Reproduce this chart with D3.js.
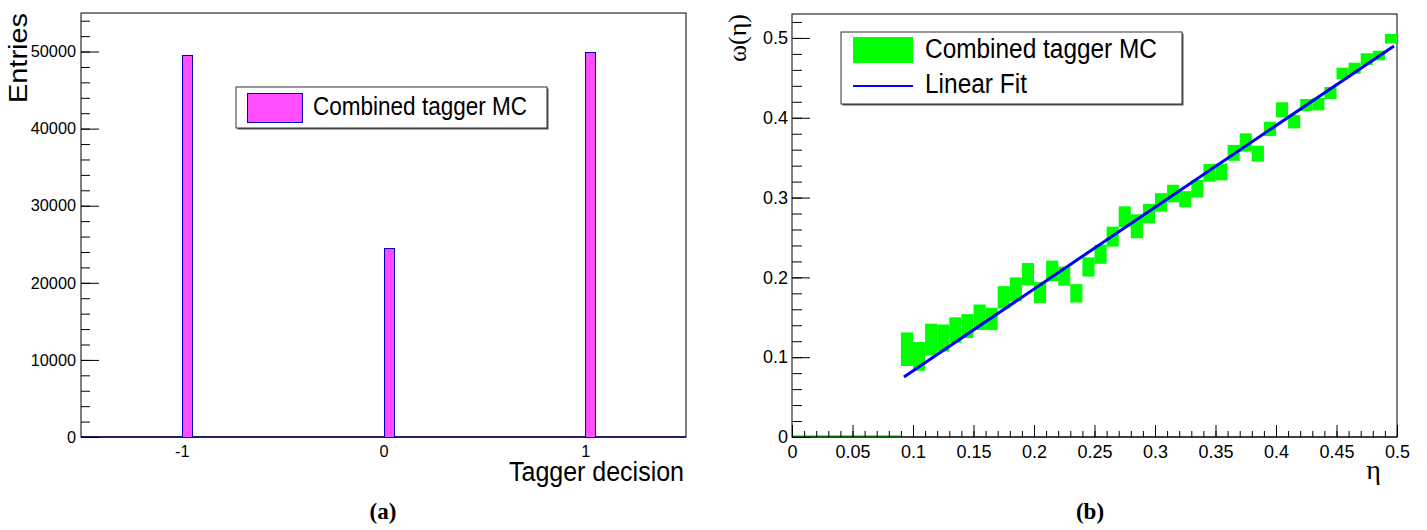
<!DOCTYPE html>
<meta charset="utf-8">
<script src="https://d3js.org/d3.v7.min.js"></script>
<style>
  body { margin: 0; background: #fff; }
  svg text { font-family: 'Liberation Sans', Arial, Helvetica, sans-serif; fill: #000; }
  svg .serif { font-family: 'Liberation Serif', 'Times New Roman', serif; }
  .tick line { stroke: #000; }
</style>
<body>
<svg id="fig" width="1427" height="530"></svg>
<script>
// panel (a): tagger decision histogram
var decisions = [-1, 0, 1];
var entries = [49500, 24500, 50000];
var binWidth = 0.05;
var entryTicks = [0, 10000, 20000, 30000, 40000, 50000];
var decisionTicks = [-1, 0, 1];

// panel (b): mistag vs eta, error boxes
var eta = [0.095, 0.105, 0.115, 0.125, 0.135, 0.145, 0.155, 0.165, 0.175, 0.185,
           0.195, 0.205, 0.215, 0.225, 0.235, 0.245, 0.255, 0.265, 0.275, 0.285,
           0.295, 0.305, 0.315, 0.325, 0.335, 0.345, 0.355, 0.365, 0.375, 0.385,
           0.395, 0.405, 0.415, 0.425, 0.435, 0.445, 0.455, 0.465, 0.475, 0.485, 0.495];
var omega = [0.110, 0.101, 0.122, 0.124, 0.134, 0.139, 0.150, 0.148, 0.175, 0.185,
             0.204, 0.181, 0.208, 0.2015, 0.180, 0.213, 0.229, 0.251, 0.276, 0.264,
             0.280, 0.294, 0.305, 0.298, 0.311, 0.331, 0.332, 0.356, 0.369, 0.355,
             0.386, 0.410, 0.395, 0.416, 0.417, 0.431, 0.4555, 0.462, 0.4735, 0.478, 0.499];
var omegaErr = [0.021, 0.018, 0.020, 0.017, 0.016, 0.015, 0.016, 0.014, 0.014, 0.015,
                0.014, 0.013, 0.013, 0.012, 0.0115, 0.012, 0.012, 0.0125, 0.013, 0.015,
                0.012, 0.0115, 0.011, 0.010, 0.011, 0.011, 0.0105, 0.010, 0.0115, 0.010,
                0.009, 0.0094, 0.0084, 0.0075, 0.0078, 0.0075, 0.0073, 0.007, 0.0073, 0.006, 0.006];
var etaBin = 0.01;
var emptyEta = [0.005, 0.015, 0.025, 0.035, 0.045, 0.055, 0.065, 0.075, 0.085];
var fitSlope = 1.024, fitIntercept = -0.0194;
var fitRange = [0.0925, 0.4975];
var etaTicks = [0, 0.05, 0.1, 0.15, 0.2, 0.25, 0.3, 0.35, 0.4, 0.45, 0.5];
var etaLabels = ["0", "0.05", "0.1", "0.15", "0.2", "0.25", "0.3", "0.35", "0.4", "0.45", "0.5"];
var omegaTicks = [0, 0.1, 0.2, 0.3, 0.4, 0.5];
var omegaLabels = ["0", "0.1", "0.2", "0.3", "0.4", "0.5"];

var svg = d3.select("#fig");
var barFill = "#ff4dff";

function legendBox(g, x, y, w, h) {
    g.append("rect").attr("x", x + 1.5).attr("y", y + 1.5).attr("width", w).attr("height", h)
        .attr("fill", "#555");
    g.append("rect").attr("x", x).attr("y", y).attr("width", w).attr("height", h)
        .attr("fill", "#fff").attr("stroke", "#333").attr("stroke-width", 1);
}

/* ---------- panel (a) ---------- */
var xA = d3.scaleLinear().domain([-1.5, 1.5]).range([81, 686]);
var yA = d3.scaleLinear().domain([0, 55000]).range([437, 13]);
var gA = svg.append("g");

gA.append("rect")
    .attr("x", xA.range()[0]).attr("y", yA.range()[1])
    .attr("width", xA.range()[1] - xA.range()[0])
    .attr("height", yA.range()[0] - yA.range()[1])
    .attr("fill", "none").attr("stroke", "#000").attr("stroke-width", 1);

gA.append("line")
    .attr("x1", xA.range()[0]).attr("x2", xA.range()[1])
    .attr("y1", yA(0)).attr("y2", yA(0))
    .attr("stroke", "#000066").attr("stroke-width", 1.5);

gA.selectAll(".bar")
    .data(decisions)
    .enter().append("rect")
    .attr("class", "bar")
    .attr("x", function(d) { return Math.round(xA(d)) + 0.5; })
    .attr("width", function(d) { return Math.round(xA(d + binWidth) - xA(d)); })
    .attr("y", function(d, i) { return Math.round(yA(entries[i])) + 0.5; })
    .attr("height", function(d, i) { return Math.round(yA(0) - yA(entries[i])); })
    .attr("fill", barFill)
    .attr("stroke", "#0000c0").attr("stroke-width", 1);

gA.append("g")
    .attr("transform", "translate(" + xA.range()[0] + ",0)")
    .call(d3.axisLeft(yA).tickValues(d3.range(0, 55001, 2000)).tickSize(-9).tickFormat(""))
    .call(function(g) { g.select(".domain").remove(); });

gA.append("g")
    .attr("transform", "translate(" + xA.range()[0] + ",0)")
    .call(d3.axisLeft(yA).tickValues(entryTicks).tickSize(-18).tickPadding(5)
        .tickFormat(function(d) { return String(d); }))
    .call(function(g) { g.select(".domain").remove(); })
    .selectAll("text").attr("font-size", 16.3).style("font-family", "'Liberation Sans', Arial, sans-serif");

gA.append("g")
    .attr("transform", "translate(0," + yA(0) + ")")
    .call(d3.axisBottom(xA).tickValues(decisionTicks).tickSize(0).tickPadding(8)
        .tickFormat(function(d) { return String(d); }))
    .call(function(g) { g.select(".domain").remove(); })
    .selectAll("text").attr("font-size", 16.3).style("font-family", "'Liberation Sans', Arial, sans-serif");

gA.append("text")
    .attr("transform", "translate(27,13) rotate(-90)")
    .attr("text-anchor", "end")
    .attr("font-size", 26.5)
    .attr("textLength", 90).attr("lengthAdjust", "spacingAndGlyphs")
    .text("Entries");

gA.append("text")
    .attr("x", 684).attr("y", 481)
    .attr("text-anchor", "end")
    .attr("font-size", 27)
    .attr("textLength", 175).attr("lengthAdjust", "spacingAndGlyphs")
    .text("Tagger decision");

var legA = gA.append("g");
legendBox(legA, 236, 87, 311, 41);
legA.append("rect").attr("x", 247.5).attr("y", 93.5).attr("width", 55).attr("height", 29)
    .attr("fill", barFill).attr("stroke", "#0000c0").attr("stroke-width", 1);
legA.append("text").attr("x", 313).attr("y", 115)
    .attr("font-size", 26)
    .attr("textLength", 214).attr("lengthAdjust", "spacingAndGlyphs")
    .text("Combined tagger MC");

gA.append("text")
    .attr("class", "serif")
    .attr("x", 383).attr("y", 519)
    .attr("text-anchor", "middle")
    .attr("font-size", 23).attr("font-weight", "bold")
    .text("(a)");

/* ---------- panel (b) ---------- */
var xB = d3.scaleLinear().domain([0, 0.5]).range([792, 1397]);
var yB = d3.scaleLinear().domain([0, 0.53]).range([437, 14]);
var gB = svg.append("g");

gB.append("rect")
    .attr("x", xB.range()[0]).attr("y", yB.range()[1])
    .attr("width", xB.range()[1] - xB.range()[0])
    .attr("height", yB.range()[0] - yB.range()[1])
    .attr("fill", "none").attr("stroke", "#000").attr("stroke-width", 1);

// empty bins sit on the axis
gB.selectAll(".empty")
    .data(emptyEta)
    .enter().append("line")
    .attr("class", "empty")
    .attr("x1", function(d) { return xB(d - etaBin / 2); })
    .attr("x2", function(d) { return xB(d + etaBin / 2); })
    .attr("y1", yB(0) - 0.5).attr("y2", yB(0) - 0.5)
    .attr("stroke", "#00cc00").attr("stroke-width", 2);

gB.selectAll(".box")
    .data(eta)
    .enter().append("rect")
    .attr("class", "box")
    .attr("x", function(d) { return xB(d - etaBin / 2); })
    .attr("width", function(d) { return xB(d + etaBin / 2) - xB(d - etaBin / 2); })
    .attr("y", function(d, i) { return yB(omega[i] + omegaErr[i]); })
    .attr("height", function(d, i) { return yB(omega[i] - omegaErr[i]) - yB(omega[i] + omegaErr[i]); })
    .attr("fill", "#00ff00");

gB.append("line")
    .attr("x1", xB(fitRange[0])).attr("y1", yB(fitSlope * fitRange[0] + fitIntercept))
    .attr("x2", xB(fitRange[1])).attr("y2", yB(fitSlope * fitRange[1] + fitIntercept))
    .attr("stroke", "#0000ff").attr("stroke-width", 3);

gB.append("g")
    .attr("transform", "translate(" + xB.range()[0] + ",0)")
    .call(d3.axisLeft(yB).tickValues(d3.range(0, 0.531, 0.02)).tickSize(-10).tickFormat(""))
    .call(function(g) { g.select(".domain").remove(); });

gB.append("g")
    .attr("transform", "translate(" + xB.range()[0] + ",0)")
    .call(d3.axisLeft(yB).tickValues(omegaTicks).tickSize(-18).tickPadding(4)
        .tickFormat(function(d, i) { return omegaLabels[i]; }))
    .call(function(g) { g.select(".domain").remove(); })
    .selectAll("text").attr("font-size", 18).style("font-family", "'Liberation Sans', Arial, sans-serif");

gB.append("g")
    .attr("transform", "translate(0," + yB(0) + ")")
    .call(d3.axisBottom(xB).tickValues(d3.range(0, 0.5001, 0.01)).tickSize(-6).tickFormat(""))
    .call(function(g) { g.select(".domain").remove(); });

gB.append("g")
    .attr("transform", "translate(0," + yB(0) + ")")
    .call(d3.axisBottom(xB).tickValues(etaTicks).tickSize(-12).tickPadding(8)
        .tickFormat(function(d, i) { return etaLabels[i]; }))
    .call(function(g) { g.select(".domain").remove(); })
    .selectAll("text").attr("font-size", 18).style("font-family", "'Liberation Sans', Arial, sans-serif");

gB.append("line")
    .attr("x1", xB.range()[0]).attr("x2", xB.range()[1])
    .attr("y1", yB(0)).attr("y2", yB(0))
    .attr("stroke", "#000").attr("stroke-width", 1);

gB.append("text")
    .attr("class", "serif")
    .attr("transform", "translate(746,14) rotate(-90)")
    .attr("text-anchor", "end")
    .attr("font-size", 26)
    .text("ω(η)");

gB.append("text")
    .attr("class", "serif")
    .attr("x", 1381).attr("y", 479)
    .attr("text-anchor", "end")
    .attr("font-size", 28)
    .text("η");

var legB = gB.append("g");
legendBox(legB, 841, 32, 341, 72);
legB.append("rect").attr("x", 853).attr("y", 37).attr("width", 60).attr("height", 26)
    .attr("fill", "#00ff00");
legB.append("text").attr("x", 925).attr("y", 58)
    .attr("font-size", 27)
    .attr("textLength", 232).attr("lengthAdjust", "spacingAndGlyphs")
    .text("Combined tagger MC");
legB.append("line").attr("x1", 853).attr("x2", 913).attr("y1", 86).attr("y2", 86)
    .attr("stroke", "#0000ff").attr("stroke-width", 2);
legB.append("text").attr("x", 925).attr("y", 93)
    .attr("font-size", 27)
    .attr("textLength", 102).attr("lengthAdjust", "spacingAndGlyphs")
    .text("Linear Fit");

gB.append("text")
    .attr("class", "serif")
    .attr("x", 1090).attr("y", 519)
    .attr("text-anchor", "middle")
    .attr("font-size", 23).attr("font-weight", "bold")
    .text("(b)");
</script>
</body>
